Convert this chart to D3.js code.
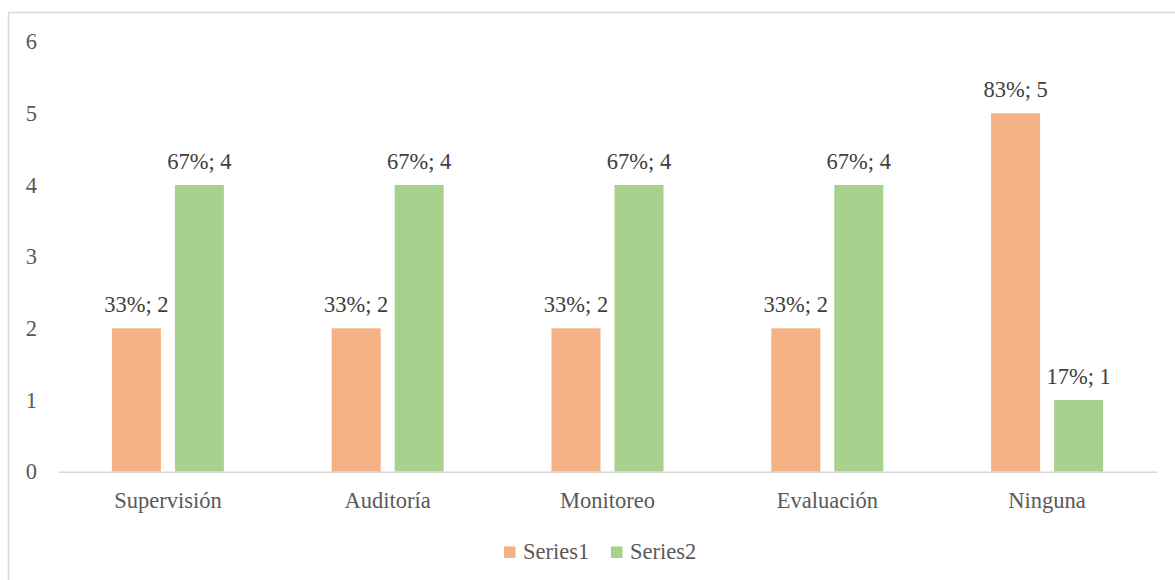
<!DOCTYPE html>
<html>
<head>
<meta charset="utf-8">
<script src="https://cdn.jsdelivr.net/npm/d3@7"></script>
<style>
  html, body { margin: 0; padding: 0; background: #fff; }
  svg { display: block; }
</style>
</head>
<body>
<svg id="chart" width="1175" height="580"></svg>
<script>
const categories = ["Supervisión", "Auditoría", "Monitoreo", "Evaluación", "Ninguna"];
const seriesNames = ["Series1", "Series2"];
const series1Values = [2, 2, 2, 2, 5];
const series2Values = [4, 4, 4, 4, 1];
const series1Pct = ["33%", "33%", "33%", "33%", "83%"];
const series2Pct = ["67%", "67%", "67%", "67%", "17%"];
const yTicks = [0, 1, 2, 3, 4, 5, 6];
const colors = ["#F4B183", "#A9D18E"];

const FONT = '"Liberation Serif", "Times New Roman", serif';
const svg = d3.select("#chart").style("font-family", FONT);
const W = 1175, H = 580;

// chart border
svg.append("rect")
  .attr("x", 8.5).attr("y", 12.5)
  .attr("width", W + 10).attr("height", H + 10)
  .attr("fill", "none").attr("stroke", "#d9d9d9").attr("stroke-width", 1.5);

const plot = { left: 58, right: 1157, top: 41.6, bottom: 471.7 };

const x = d3.scaleBand().domain(categories).range([plot.left, plot.right]).padding(0);
const y = d3.scaleLinear().domain([0, 6]).range([plot.bottom, plot.top]);

const barW = 49, gap = 14;
const groupW = barW * 2 + gap;
const xs = d3.scaleBand().domain(seriesNames).range([0, groupW])
  .paddingInner(gap / (barW + gap)).paddingOuter(0);

const data = [];
categories.forEach((c, i) => {
  data.push({ cat: c, s: "Series1", v: series1Values[i], p: series1Pct[i], col: colors[0] });
  data.push({ cat: c, s: "Series2", v: series2Values[i], p: series2Pct[i], col: colors[1] });
});

const fs = 22.5;

// y axis labels
const yAxis = d3.axisLeft(y).tickValues(yTicks).tickSize(0).tickPadding(0).tickFormat(d3.format("d"));
const yg = svg.append("g").attr("transform", `translate(${37},0)`).call(yAxis);
yg.attr("font-family", null).attr("font-size", null);
yg.select(".domain").remove();
yg.selectAll("text").style("font-size", fs + "px").attr("fill", "#595959")
  .style("font-family", FONT);

// bars
const groupOffset = (x.bandwidth() - groupW) / 2;
svg.append("g").selectAll("rect").data(data).join("rect")
  .attr("x", d => x(d.cat) + groupOffset + xs(d.s))
  .attr("y", d => y(d.v))
  .attr("width", xs.bandwidth())
  .attr("height", d => y(0) - y(d.v))
  .attr("fill", d => d.col);

// baseline / x axis
const xAxis = d3.axisBottom(x).tickSize(0).tickPadding(0);
const xg = svg.append("g").attr("transform", `translate(0,${y(0)})`).call(xAxis);
xg.attr("font-family", null).attr("font-size", null);
xg.select(".domain").attr("stroke", "#d9d9d9").attr("stroke-width", 1.5);
xg.selectAll("text").style("font-size", fs + "px").attr("fill", "#595959")
  .attr("dy", null).attr("y", 36)
  .style("font-family", FONT);

// data labels
svg.append("g").selectAll("text").data(data).join("text")
  .attr("x", d => x(d.cat) + groupOffset + xs(d.s) + xs.bandwidth() / 2)
  .attr("y", d => y(d.v) - 16)
  .attr("text-anchor", "middle")
  .style("font-size", fs + "px")
  .style("font-family", FONT)
  .attr("fill", "#404040")
  .text(d => `${d.p}; ${d.v}`);

// legend
const legend = svg.append("g");
const legendItems = [
  { name: seriesNames[0], col: colors[0], x: 504 },
  { name: seriesNames[1], col: colors[1], x: 611 }
];
legendItems.forEach(it => {
  legend.append("rect").attr("x", it.x).attr("y", 546.5).attr("width", 11.5).attr("height", 11.5).attr("fill", it.col);
  legend.append("text").attr("x", it.x + 19).attr("y", 559)
    .style("font-size", fs + "px").style("font-family", FONT)
    .attr("fill", "#595959").text(it.name);
});
</script>
</body>
</html>
